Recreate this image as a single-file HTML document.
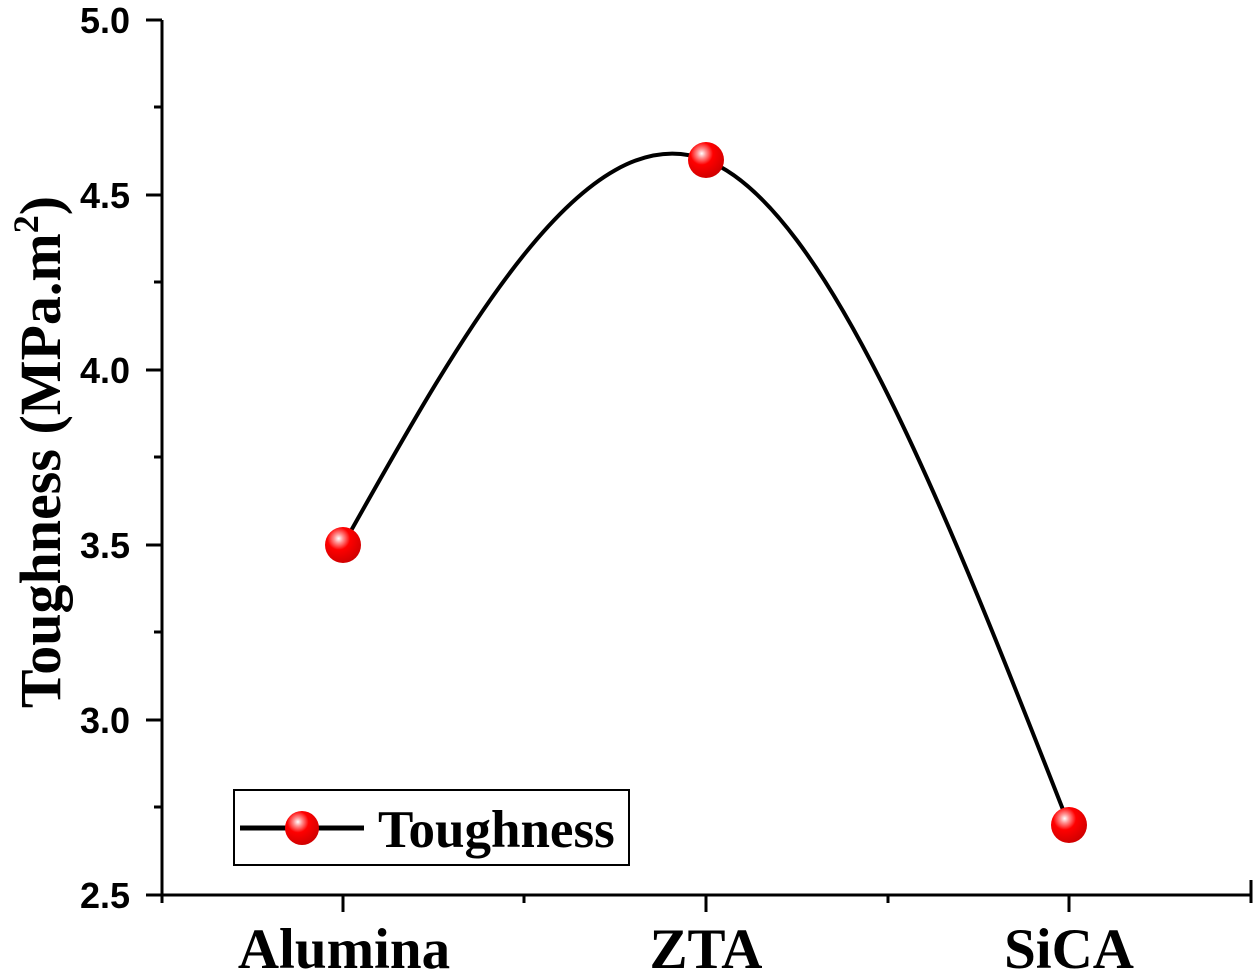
<!DOCTYPE html>
<html><head><meta charset="utf-8"><style>body{margin:0;background:#fff}</style></head><body>
<svg width="1260" height="975" xmlns="http://www.w3.org/2000/svg">
<defs><radialGradient id="g" cx="0.38" cy="0.32" r="0.7"><stop offset="0" stop-color="#fff"/><stop offset="0.18" stop-color="#ff9090"/><stop offset="0.45" stop-color="#f00"/><stop offset="1" stop-color="#d00000"/></radialGradient></defs>
<g stroke="#000" stroke-width="3" fill="none">
<line x1="162" y1="20" x2="162" y2="897"/>
<line x1="161" y1="895" x2="1252" y2="895"/>
<line x1="146" y1="20" x2="162" y2="20"/><line x1="146" y1="195" x2="162" y2="195"/><line x1="146" y1="370" x2="162" y2="370"/><line x1="146" y1="545" x2="162" y2="545"/><line x1="146" y1="720" x2="162" y2="720"/><line x1="146" y1="895" x2="162" y2="895"/>
<line x1="154" y1="107" x2="162" y2="107"/><line x1="154" y1="282" x2="162" y2="282"/><line x1="154" y1="457" x2="162" y2="457"/><line x1="154" y1="632" x2="162" y2="632"/><line x1="154" y1="807" x2="162" y2="807"/>
<line x1="343" y1="895" x2="343" y2="912"/><line x1="706" y1="895" x2="706" y2="912"/><line x1="1069" y1="895" x2="1069" y2="912"/>
<line x1="524" y1="895" x2="524" y2="903"/><line x1="888" y1="895" x2="888" y2="903"/><line x1="1251" y1="880" x2="1251" y2="903"/><line x1="162" y1="895" x2="162" y2="903"/>
<path d="M343 545 C464 329.2 585 113.3 706 160 C827 206.7 948 515.8 1069 825" stroke-width="4"/>
</g>
<g font-family="Liberation Sans, sans-serif" font-weight="bold" font-size="36" text-anchor="end">
<text x="130" y="33">5.0</text><text x="130" y="208">4.5</text><text x="130" y="383">4.0</text><text x="130" y="558">3.5</text><text x="130" y="733">3.0</text><text x="130" y="908">2.5</text>
</g>
<g font-family="Liberation Serif, serif" font-weight="bold" font-size="57" text-anchor="middle">
<text x="344" y="968">Alumina</text><text x="706" y="968">ZTA</text><text x="1069" y="968">SiCA</text>
</g>
<text transform="translate(60,452) rotate(-90)" font-family="Liberation Serif, serif" font-weight="bold" font-size="58" text-anchor="middle">Toughness (MPa.m<tspan font-size="36" dy="-22">2</tspan><tspan dy="22">)</tspan></text>
<circle cx="343" cy="545" r="18" fill="url(#g)"/>
<circle cx="706" cy="160" r="18" fill="url(#g)"/>
<circle cx="1069" cy="825" r="18" fill="url(#g)"/>
<rect x="234" y="790" width="395" height="75" fill="#fff" stroke="#000" stroke-width="2"/>
<line x1="240" y1="828" x2="364" y2="828" stroke="#000" stroke-width="5"/>
<circle cx="302" cy="828" r="17" fill="url(#g)"/>
<text x="378" y="847" font-family="Liberation Serif, serif" font-weight="bold" font-size="53">Toughness</text>
</svg>
</body></html>
